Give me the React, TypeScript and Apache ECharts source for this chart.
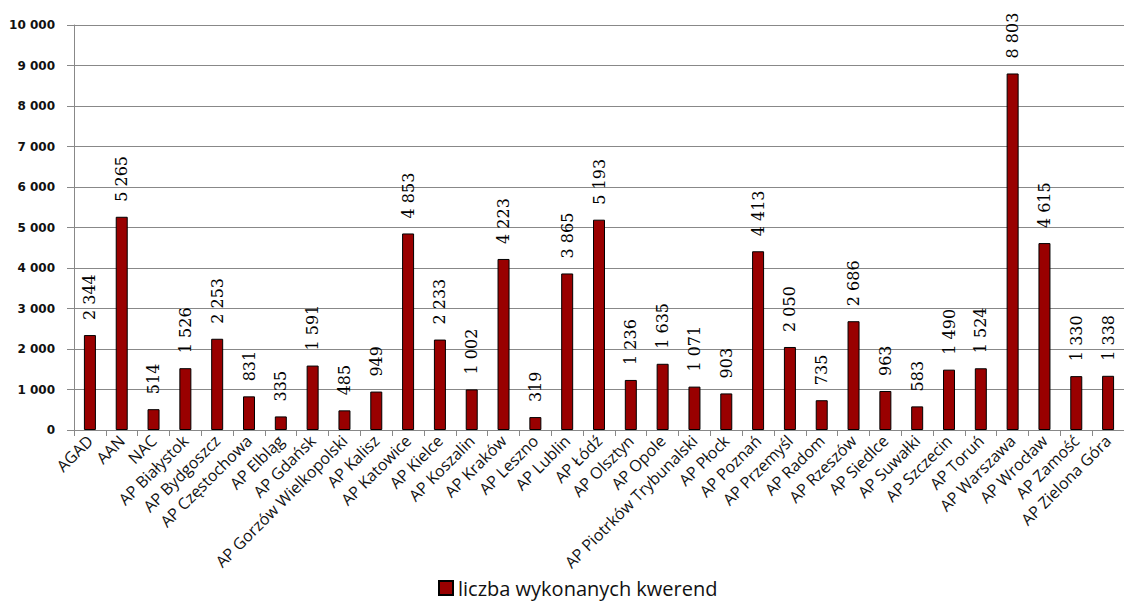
import React, { useEffect, useRef } from "react";
import * as echarts from "echarts";

const categories = [
  "AGAD", "AAN", "NAC", "AP Białystok", "AP Bydgoszcz", "AP Częstochowa", "AP Elbląg",
  "AP Gdańsk", "AP Gorzów Wielkopolski", "AP Kalisz", "AP Katowice", "AP Kielce",
  "AP Koszalin", "AP Kraków", "AP Leszno", "AP Lublin", "AP Łódź", "AP Olsztyn",
  "AP Opole", "AP Piotrków Trybunalski", "AP Płock", "AP Poznań", "AP Przemyśl",
  "AP Radom", "AP Rzeszów", "AP Siedlce", "AP Suwałki", "AP Szczecin", "AP Toruń",
  "AP Warszawa", "AP Wrocław", "AP Zamość", "AP Zielona Góra",
];

const values = [
  2344, 5265, 514, 1526, 2253, 831, 335, 1591, 485, 949, 4853, 2233, 1002, 4223, 319,
  3865, 5193, 1236, 1635, 1071, 903, 4413, 2050, 735, 2686, 963, 583, 1490, 1524,
  8803, 4615, 1330, 1338,
];

const seriesName = "liczba wykonanych kwerend";

const fmt = (v: number) => {
  const s = String(Math.round(v));
  return s.replace(/\B(?=(\d{3})+(?!\d))/g, " ");
};

export default function App() {
  const ref = useRef<HTMLDivElement>(null);
  useEffect(() => {
    if (!ref.current) return;
    const chart = echarts.init(ref.current, null, { renderer: "svg" });
    chart.setOption({
      animation: false,
      backgroundColor: "#ffffff",
      grid: { left: 74, top: 25, bottom: 176, right: -11, containLabel: false },
      legend: {
        data: [seriesName],
        left: 436,
        top: 576,
        padding: 2,
        icon: "rect",
        itemWidth: 14,
        itemHeight: 14,
        itemGap: 6,
        textStyle: { fontFamily: "Open Sans", fontSize: 20, color: "#111" },
      },
      xAxis: {
        type: "category",
        data: categories,
        axisLine: { lineStyle: { color: "#888", width: 1 } },
        axisTick: { show: true, length: 6, alignWithLabel: false, lineStyle: { color: "#888" } },
        axisLabel: {
          interval: 0,
          rotate: 45,
          margin: 8,
          fontFamily: "Open Sans",
          fontSize: 16,
          color: "#111",
        },
      },
      yAxis: {
        type: "value",
        min: 0,
        max: 10000,
        interval: 1000,
        axisLine: { show: true, lineStyle: { color: "#888", width: 1 } },
        axisTick: { show: true, length: 7, inside: false, lineStyle: { color: "#888" } },
        splitLine: { show: true, lineStyle: { color: "#888", width: 1 } },
        axisLabel: {
          margin: 19,
          fontFamily: "DejaVu Sans",
          fontWeight: "bold",
          fontSize: 12,
          color: "#111",
          formatter: (v: number) => fmt(v),
        },
      },
      series: [
        {
          name: seriesName,
          type: "bar",
          data: values,
          barWidth: 12,
          itemStyle: { color: "#990000", borderColor: "#000", borderWidth: 1 },
          label: {
            show: true,
            position: "top",
            rotate: 90,
            align: "left",
            verticalAlign: "middle",
            distance: 15,
            fontFamily: "DejaVu Serif",
            fontSize: 16,
            color: "#000",
            formatter: (p: any) => fmt(p.value),
          },
        },
      ],
    });
    return () => chart.dispose();
  }, []);
  return (
    <div
      ref={ref}
      style={{ position: "fixed", left: 0, top: 0, width: 1124, height: 606, overflow: "hidden" }}
    />
  );
}
